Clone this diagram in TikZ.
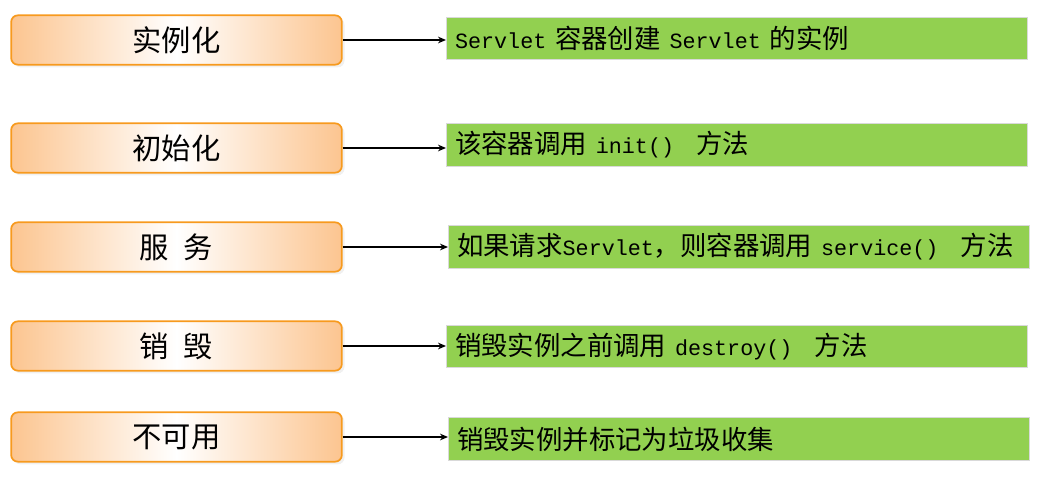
\documentclass[tikz,border=0pt]{standalone}
\usepackage{fontspec}
\setmainfont{Noto Sans CJK SC}
\setmonofont{Liberation Mono}
\usepackage{tikz}
\usetikzlibrary{arrows.meta,shadows}
\definecolor{sEdge}{HTML}{F79A1E}
\definecolor{sFill}{HTML}{FCC590}
\definecolor{dFill}{HTML}{92D050}
\definecolor{dEdge}{HTML}{D9D9D9}
\newcommand{\mono}[1]{{\fontsize{16.3}{19}\ttfamily #1}}

\begin{document}
\begin{tikzpicture}[x=0.75pt, y=-0.75pt, >={Stealth[length=6pt,width=5pt]},
        stage/.style={draw=sEdge, line width=1.3pt, rounded corners=5pt,
          left color=sFill, right color=sFill, middle color=white,
          minimum width=248pt, minimum height=37pt, inner sep=0pt,
          font=\fontsize{22}{25}\selectfont,
          drop shadow={opacity=0.12, shadow xshift=2pt, shadow yshift=-2pt}},
        desc/.style={draw=dEdge, fill=dFill, line width=0.6pt, anchor=west,
          text width=423pt, align=left, minimum height=32pt, inner xsep=6.5pt,
          inner ysep=0pt, font=\fontsize{19.8}{22}\selectfont}]
      \useasboundingbox (0,0) rectangle (1041,477);
      \node[stage] (st1) at (176.5,40) {实例化};
      \node[stage] (st2) at (176.5,148) {初始化};
      \node[stage] (st3) at (176.5,247) {服\hspace{0.5em}务};
      \node[stage] (st4) at (176.5,346) {销\hspace{0.5em}毁};
      \node[stage] (st5) at (176.5,437) {不可用};
      \node[desc] (ds1) at (446,38.5) {\mono{Servlet }容器创建\mono{ Servlet }的实例};
      \node[desc] (ds2) at (446,145) {该容器调用\mono{ init()}\hspace{0.85em}方法};
      \node[desc] (ds3) at (448,247) {如果请求\mono{Servlet}，则容器调用\mono{ service()}\hspace{0.85em}方法};
      \node[desc] (ds4) at (446,346.5) {销毁实例之前调用\mono{ destroy()}\hspace{0.85em}方法};
      \node[desc] (ds5) at (448,439) {销毁实例并标记为垃圾收集};
      \draw[->, line width=1.1pt] (st1.east) -- (st1.east -| ds1.west);
      \draw[->, line width=1.1pt] (st2.east) -- (st2.east -| ds2.west);
      \draw[->, line width=1.1pt] (st3.east) -- (st3.east -| ds3.west);
      \draw[->, line width=1.1pt] (st4.east) -- (st4.east -| ds4.west);
      \draw[->, line width=1.1pt] (st5.east) -- (st5.east -| ds5.west);
    \end{tikzpicture}
\end{document}
